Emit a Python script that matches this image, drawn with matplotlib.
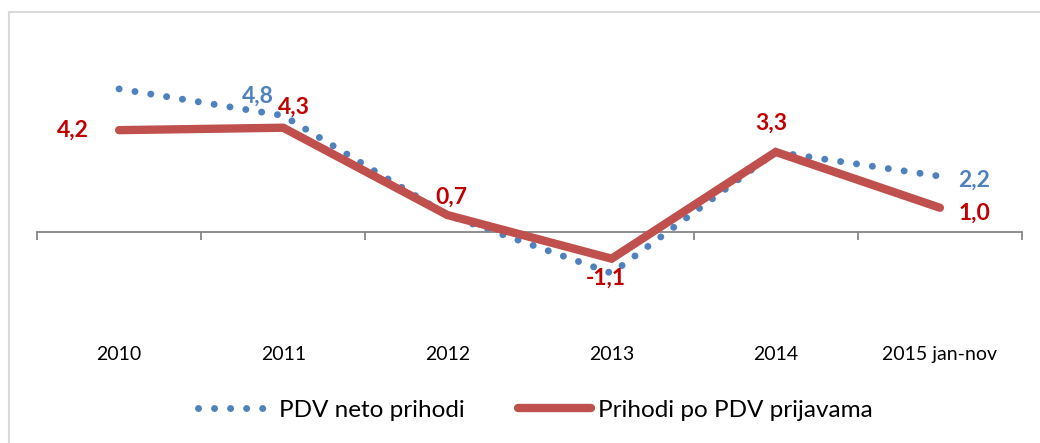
import numpy as np
import matplotlib.pyplot as plt
from matplotlib.lines import Line2D
from matplotlib.transforms import blended_transform_factory

years = ["2010", "2011", "2012", "2013", "2014", "2015 jan-nov"]
pdv_neto = [5.9, 4.8, 0.7, -1.7, 3.3, 2.3]
pdv_prijave = [4.2, 4.3, 0.7, -1.1, 3.3, 1.0]
neto_labels = ["", "4,8", "", "", "", "2,2"]
prijave_labels = ["4,2", "4,3", "0,7", "-1,1", "3,3", "1,0"]

blue = "#4F81BD"
red = "#C0504D"
red_txt = "#C00000"
grey = "#868686"

plt.rcParams["font.family"] = ["Lato", "DejaVu Sans"]

fig = plt.figure(figsize=(10.4, 4.43), dpi=100)
ax = fig.add_axes([37 / 1040, 1 - 329 / 443, (1022 - 37) / 1040, (329 - 38) / 443])

x = np.arange(len(years))
ax.plot(x, pdv_neto, color=blue, lw=5, linestyle=(0, (0.01, 2.3)),
        dash_capstyle="round", zorder=2, label="PDV neto prihodi")
ax.plot(x, pdv_prijave, color=red, lw=6, solid_capstyle="round",
        solid_joinstyle="miter", zorder=3, label="Prihodi po PDV prijavama")

ax.set_xlim(-0.5, len(years) - 0.5)
ax.set_ylim(-4, 8)

# category axis crossing at zero
for s in ["top", "right", "left"]:
    ax.spines[s].set_visible(False)
ax.spines["bottom"].set_position(("data", 0))
ax.spines["bottom"].set_color(grey)
ax.spines["bottom"].set_linewidth(1.3)
ax.set_yticks([])
ax.set_xticks(x)
ax.tick_params(axis="x", which="major", length=0, labelbottom=False)
ax.set_xticks(np.arange(len(years) + 1) - 0.5, minor=True)
ax.tick_params(axis="x", which="minor", length=6, width=1.3, color=grey, direction="out")

tr = blended_transform_factory(ax.transData, ax.transAxes)
for i, yr in enumerate(years):
    ax.text(i, -0.089, yr, transform=tr, ha="center", va="center",
            fontsize=14, color="black")

# data labels
red_off = [(-22, 0), (8, 15), (3, 13), (-4, -14), (-3, 21), (25, -4)]
red_ha = ["right", "center", "center", "center", "center", "center"]
for i, (v, t) in enumerate(zip(pdv_prijave, prijave_labels)):
    ax.annotate(t, (i, v), xytext=red_off[i], textcoords="offset points",
                ha=red_ha[i], va="center", fontsize=16.5, fontweight="bold", color=red_txt)

blue_off = [(0, 0), (-18, 14), (0, 0), (0, 0), (0, 0), (13, -3)]
for i, (v, t) in enumerate(zip(pdv_neto, neto_labels)):
    if t:
        ax.annotate(t, (i, v), xytext=blue_off[i], textcoords="offset points",
                    ha="center" if i != 5 else "left", va="center",
                    fontsize=16.5, fontweight="bold", color=blue)

handles = [
    Line2D([], [], color=blue, lw=5, linestyle=(0, (0.01, 2.3)), dash_capstyle="round"),
    Line2D([], [], color=red, lw=6, solid_capstyle="round"),
]
fig.legend(handles, ["PDV neto prihodi", "Prihodi po PDV prijavama"],
           loc="center", bbox_to_anchor=(0.515, 0.074), ncol=2, frameon=False,
           fontsize=17.5, handlelength=3, handletextpad=0.3, columnspacing=2.2)

# chart area border (left and top edges visible)
fig.add_artist(Line2D([8.5 / 1040, 8.5 / 1040], [0, 1 - 11.5 / 443],
                      transform=fig.transFigure, color="#D9D9D9", lw=1.5))
fig.add_artist(Line2D([8.5 / 1040, 1], [1 - 11.5 / 443, 1 - 11.5 / 443],
                      transform=fig.transFigure, color="#D9D9D9", lw=1.5))

fig.savefig("out.png", dpi=100)
